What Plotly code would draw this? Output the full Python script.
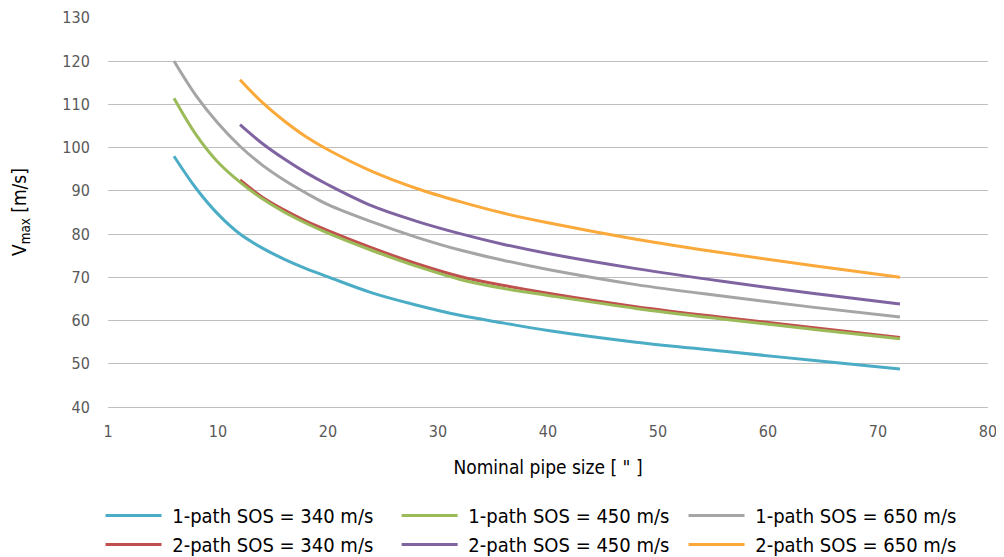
import plotly.graph_objects as go

# Nominal pipe sizes (inches)
sizes_1path = [6, 8, 10, 12, 14, 16, 18, 20, 24, 28, 32, 36, 40, 48, 56, 64, 72]
sizes_2path = [12, 14, 16, 18, 20, 24, 28, 32, 36, 40, 48, 56, 64, 72]

# Vmax [m/s]
v_1path_340 = [98.0, 90.6, 84.6, 80.0, 76.8, 74.2, 72.0, 70.1, 66.4, 63.6, 61.2, 59.4, 57.7, 55.0, 52.9, 50.8, 48.8]
v_1path_450 = [111.4, 103.0, 96.6, 92.0, 88.2, 85.1, 82.5, 80.2, 76.2, 72.6, 69.5, 67.4, 65.8, 62.8, 60.3, 58.0, 55.8]
v_1path_650 = [120.0, 112.0, 105.6, 100.3, 96.0, 92.5, 89.5, 86.8, 82.8, 79.3, 76.3, 73.9, 71.8, 68.3, 65.6, 63.1, 60.8]
v_2path_340 = [92.5, 88.6, 85.6, 83.0, 80.8, 76.8, 73.2, 70.2, 68.1, 66.3, 63.2, 60.7, 58.4, 56.1]
v_2path_450 = [105.3, 101.0, 97.4, 94.2, 91.4, 86.5, 83.0, 80.1, 77.6, 75.5, 72.0, 69.0, 66.3, 63.8]
v_2path_650 = [115.7, 110.5, 106.2, 102.5, 99.5, 94.5, 90.6, 87.5, 84.8, 82.6, 78.8, 75.6, 72.7, 70.0]

x_tickvals = [0, 10, 20, 30, 40, 50, 60, 70, 80]
x_ticktext = ["1", "10", "20", "30", "40", "50", "60", "70", "80"]

FONT = "DejaVu Sans Condensed, Liberation Sans Narrow, Liberation Sans, sans-serif"

series = [
    ("1-path SOS = 340 m/s", sizes_1path, v_1path_340, "#4BACC6", "legend"),
    ("2-path SOS = 340 m/s", sizes_2path, v_2path_340, "#C0504D", "legend"),
    ("1-path SOS = 450 m/s", sizes_1path, v_1path_450, "#9BBB59", "legend2"),
    ("2-path SOS = 450 m/s", sizes_2path, v_2path_450, "#8064A2", "legend2"),
    ("1-path SOS = 650 m/s", sizes_1path, v_1path_650, "#A5A5A5", "legend3"),
    ("2-path SOS = 650 m/s", sizes_2path, v_2path_650, "#FAA93A", "legend3"),
]

fig = go.Figure()
for name, xs, ys, color, leg in series:
    fig.add_trace(go.Scatter(
        x=xs, y=ys, name="\u00a0" + name, mode="lines",
        line=dict(color=color, width=3, shape="spline", smoothing=1.0),
        legend=leg,
    ))

legend_common = dict(
    orientation="v", yanchor="top", xanchor="left", y=-0.228,
    font=dict(family=FONT, size=20, color="#000000"),
    bgcolor="rgba(0,0,0,0)", itemwidth=56, tracegroupgap=0,
)

# the page body has an 8px margin, so the figure is sized and offset for that
fig.update_layout(
    width=996, height=549,
    margin=dict(l=100, r=16, t=9, b=150, autoexpand=False),
    plot_bgcolor="white", paper_bgcolor="white",
    font=dict(family=FONT, color="#595959"),
    legend=dict(x=-0.0085, **legend_common),
    legend2=dict(x=0.328, **legend_common),
    legend3=dict(x=0.654, **legend_common),
    xaxis=dict(
        range=[0, 80], tickvals=x_tickvals, ticktext=x_ticktext,
        showgrid=False, zeroline=False, automargin=False,
        showline=True, linecolor="#BFBFBF", linewidth=1,
        tickfont=dict(size=16, color="#595959"),
        ticks="outside", ticklen=10, tickcolor="rgba(0,0,0,0)",
        title=dict(text='Nominal pipe size [ " ]', font=dict(size=19, color="#000000"), standoff=20),
    ),
    yaxis=dict(
        range=[40, 130.2], tickvals=[40, 50, 60, 70, 80, 90, 100, 110, 120, 130],
        showgrid=True, gridcolor="#BFBFBF", gridwidth=1, zeroline=False, automargin=False,
        tickfont=dict(size=16, color="#595959"),
        ticks="outside", ticklen=14, tickcolor="rgba(0,0,0,0)",
        title=dict(text="V<sub>max</sub> [m/s]", font=dict(size=19, color="#000000"), standoff=31),
    ),
)

fig.write_html("out.html")
